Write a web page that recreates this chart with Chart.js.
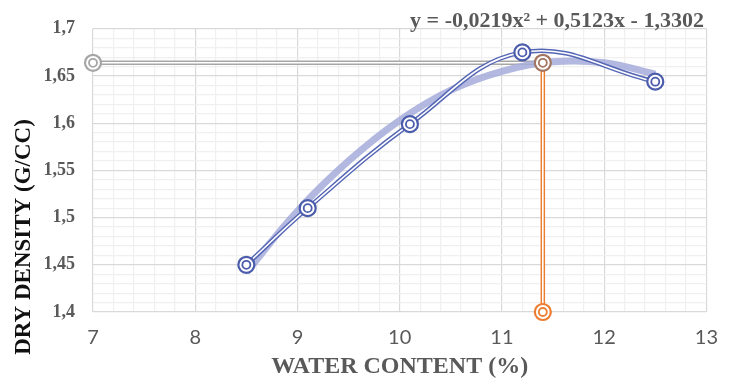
<!DOCTYPE html>
<html>
<head>
<meta charset="utf-8">
<script src="https://cdn.jsdelivr.net/npm/chart.js@4.4.1/dist/chart.umd.min.js"></script>
<style>
  html, body { margin: 0; padding: 0; background: #fff; }
  #wrap { width: 732px; height: 385px; }
</style>
</head>
<body>
<div id="wrap"><canvas id="chart" width="732" height="385"></canvas></div>
<script>
'use strict';

// measured compaction points
const waterContent = [8.5, 9.1, 10.1, 11.2, 12.5];
const dryDensity = [1.45, 1.51, 1.599, 1.675, 1.644];

// polynomial trendline
const trendX = [8.5, 9, 9.5, 10, 10.5, 11, 11.5, 12, 12.5];
const trendY = [1.442, 1.507, 1.560, 1.603, 1.635, 1.655, 1.665, 1.664, 1.652];

// optimum moisture content / max dry density guide lines
const omcX = [11.4, 11.4];
const omcY = [1.4, 1.664];
const mddX = [7, 11.4];
const mddY = [1.664, 1.664];

const xTicks = [7, 8, 9, 10, 11, 12, 13];
const xTickLabels = ['7', '8', '9', '10', '11', '12', '13'];
const yTicks = [1.4, 1.45, 1.5, 1.55, 1.6, 1.65, 1.7];
const yTickLabels = ['1,4', '1,45', '1,5', '1,55', '1,6', '1,65', '1,7'];

const equation = 'y = -0,0219x² + 0,5123x - 1,3302';

const BLUE = '#4a5cab';
const ORANGE = '#ed7d31';
const GRAY = '#a6a6a6';
const BROWN = '#a27560';

const toPts = (xs, ys) => xs.map((x, i) => ({ x, y: ys[i] }));

function findTick(list, v) {
  return list.findIndex(t => Math.abs(t - v) < 1e-6);
}

// a line drawn as two thin strokes with a white gap
function doubleLine(data, color, order, tension) {
  return [
    { data, showLine: true, borderColor: color, borderWidth: 4.5, pointRadius: 0,
      tension, clip: false, order: order + 1 },
    { data, showLine: true, borderColor: '#ffffff', borderWidth: 1.6, pointRadius: 0,
      tension, clip: false, order }
  ];
}

// double ring markers
function rings(data, color, order) {
  return [
    { data, showLine: false, pointRadius: 8, pointBorderWidth: 2.2, pointBorderColor: color,
      pointBackgroundColor: '#ffffff', pointHoverRadius: 8, clip: false, order: order + 1 },
    { data, showLine: false, pointRadius: 4, pointBorderWidth: 1.8, pointBorderColor: color,
      pointBackgroundColor: 'rgba(255,255,255,0.9)', pointHoverRadius: 4, clip: false, order }
  ];
}

const seriesPts = toPts(waterContent, dryDensity);
const trendPts = toPts(trendX, trendY);
const omcPts = toPts(omcX, omcY);
const mddPts = toPts(mddX, mddY);

const datasets = [
  ...rings(seriesPts, BLUE, 0),
  ...rings([omcPts[1]], BROWN, 2),
  ...rings([omcPts[0]], ORANGE, 4),
  ...rings([mddPts[0]], GRAY, 6),
  ...doubleLine(seriesPts, '#5566b5', 8, 0.4),
  { data: trendPts, showLine: true, borderColor: 'rgba(165,172,218,0.85)', borderWidth: 7,
    pointRadius: 0, tension: 0.4, clip: false, order: 10 },
  ...doubleLine(omcPts, ORANGE, 12, 0),
  ...doubleLine(mddPts, GRAY, 14, 0)
];

const titlesPlugin = {
  id: 'titles',
  afterDraw(chart) {
    const { ctx, chartArea } = chart;
    ctx.save();
    ctx.textAlign = 'center';
    ctx.textBaseline = 'middle';

    ctx.fillStyle = '#595959';
    ctx.font = 'bold 22px "Liberation Serif", serif';
    ctx.fillText(equation, 557, 21);

    ctx.font = 'bold 24px "Liberation Serif", serif';
    ctx.fillText('WATER CONTENT (%)', (chartArea.left + chartArea.right) / 2, 367);

    ctx.translate(24, 237);
    ctx.rotate(-Math.PI / 2);
    ctx.fillStyle = '#111111';
    ctx.font = 'bold 23px "Liberation Serif", serif';
    ctx.fillText('DRY DENSITY (G/CC)', 0, 0);
    ctx.restore();
  }
};

const ctx = document.getElementById('chart').getContext('2d');
new Chart(ctx, {
  type: 'scatter',
  data: { datasets },
  options: {
    responsive: false,
    animation: false,
    layout: { padding: { top: 27, right: 0, left: 0, bottom: 0 } },
    plugins: {
      legend: { display: false },
      tooltip: { enabled: false }
    },
    scales: {
      x: {
        type: 'linear',
        min: 7,
        max: 13,
        afterFit: scale => { scale.height = 73; },
        border: { display: false },
        grid: {
          drawTicks: false,
          color: c => (c.tick && findTick(xTicks, c.tick.value) >= 0 ? '#d9d9d9' : '#f0f0f0'),
          lineWidth: 1.2
        },
        ticks: {
          stepSize: 0.2,
          autoSkip: false,
          maxRotation: 0,
          padding: 14,
          color: '#595959',
          font: { family: 'Lato, "Open Sans", sans-serif', size: 20 },
          callback: v => {
            const i = findTick(xTicks, v);
            return i >= 0 ? xTickLabels[i] : '';
          }
        }
      },
      y: {
        min: 1.4,
        max: 1.7,
        afterFit: scale => { scale.width = 93; },
        border: { display: false },
        grid: {
          drawTicks: false,
          color: c => (c.tick && findTick(yTicks, c.tick.value) >= 0 ? '#d9d9d9' : '#f0f0f0'),
          lineWidth: 1.2
        },
        ticks: {
          stepSize: 0.01,
          autoSkip: false,
          padding: 18,
          color: '#595959',
          font: { family: '"Liberation Serif", serif', size: 18, weight: 'bold' },
          callback: v => {
            const i = findTick(yTicks, v);
            return i >= 0 ? yTickLabels[i] : '';
          }
        }
      }
    }
  },
  plugins: [titlesPlugin]
});
</script>
</body>
</html>
